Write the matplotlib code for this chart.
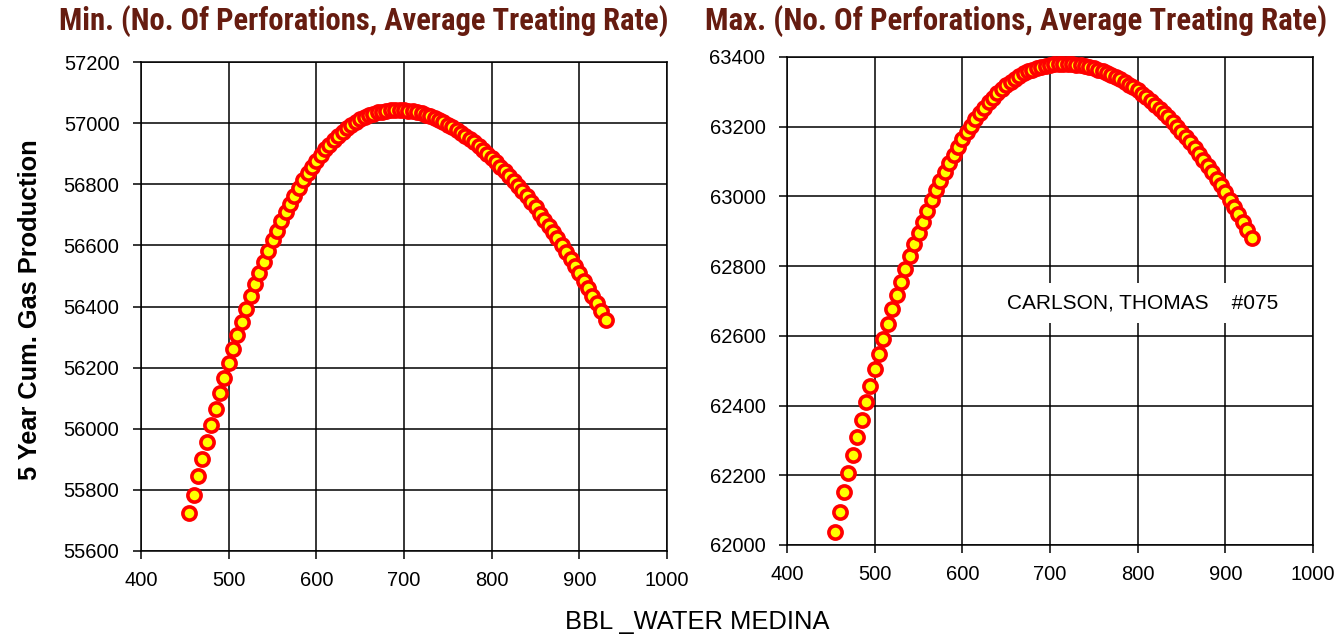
import matplotlib
matplotlib.use("Agg")
import matplotlib.pyplot as plt
from matplotlib import font_manager
from matplotlib.font_manager import FontProperties

# ---- data ----
water_bbl = [455, 460, 465, 470, 475, 480, 485, 490, 495, 500,
             505, 510, 515, 520, 525, 530, 535, 540, 545, 550,
             555, 560, 565, 570, 575, 580, 585, 590, 595, 600,
             605, 610, 615, 620, 625, 630, 635, 640, 645, 650,
             655, 660, 665, 670, 675, 680, 685, 690, 695, 700,
             705, 710, 715, 720, 725, 730, 735, 740, 745, 750,
             755, 760, 765, 770, 775, 780, 785, 790, 795, 800,
             805, 810, 815, 820, 825, 830, 835, 840, 845, 850,
             855, 860, 865, 870, 875, 880, 885, 890, 895, 900,
             905, 910, 915, 920, 925, 930]

gas_min = [55724, 55784, 55844, 55902, 55958, 56012, 56065, 56116, 56167, 56215,
           56261, 56306, 56350, 56392, 56433, 56473, 56511, 56547, 56582, 56616,
           56648, 56679, 56708, 56737, 56763, 56789, 56813, 56836, 56857, 56877,
           56896, 56914, 56930, 56945, 56959, 56972, 56984, 56994, 57004, 57012,
           57019, 57025, 57030, 57035, 57038, 57040, 57042, 57043, 57043, 57042,
           57041, 57039, 57036, 57032, 57027, 57022, 57016, 57010, 57003, 56995,
           56987, 56978, 56969, 56959, 56948, 56937, 56925, 56913, 56900, 56887,
           56873, 56858, 56844, 56828, 56812, 56795, 56778, 56760, 56742, 56724,
           56704, 56684, 56664, 56644, 56623, 56601, 56578, 56556, 56533, 56509,
           56485, 56460, 56435, 56410, 56384, 56357]

gas_max = [62036, 62095, 62151, 62206, 62258, 62310, 62360, 62409, 62457, 62504,
           62549, 62592, 62635, 62676, 62717, 62755, 62792, 62828, 62863, 62896,
           62928, 62959, 62989, 63018, 63045, 63071, 63096, 63120, 63142, 63164,
           63184, 63203, 63221, 63239, 63255, 63270, 63283, 63296, 63308, 63319,
           63329, 63338, 63346, 63353, 63359, 63364, 63369, 63372, 63375, 63377,
           63379, 63380, 63380, 63380, 63379, 63378, 63376, 63374, 63371, 63368,
           63364, 63360, 63355, 63349, 63343, 63336, 63329, 63321, 63313, 63304,
           63295, 63285, 63274, 63263, 63252, 63240, 63227, 63214, 63200, 63185,
           63171, 63155, 63139, 63123, 63105, 63088, 63070, 63051, 63032, 63012,
           62991, 62970, 62949, 62927, 62904, 62881]

x_ticks = [400, 500, 600, 700, 800, 900, 1000]
y_ticks_min = [55600, 55800, 56000, 56200, 56400, 56600, 56800, 57000, 57200]
y_ticks_max = [62000, 62200, 62400, 62600, 62800, 63000, 63200, 63400]

title_min = "Min. (No. Of Perforations, Average Treating Rate)"
title_max = "Max. (No. Of Perforations, Average Treating Rate)"
y_label = "5 Year Cum. Gas Production"
x_label = "BBL _WATER MEDINA"
note = "CARLSON, THOMAS    #075"

# ---- fonts ----
plt.rcParams["font.family"] = ["Liberation Sans", "DejaVu Sans"]


def find_condensed_bold():
    prefs = ["liberation sans narrow", "arial narrow", "roboto condensed",
             "open sans condensed", "noto sans condensed", "dejavu sans condensed",
             "dejavu sans"]
    best = None
    for f in font_manager.fontManager.ttflist:
        name = f.name.lower()
        fname = f.fname.lower()
        narrowish = ("narrow" in name or "condensed" in name or "narrow" in fname
                     or "condensed" in fname)
        if not narrowish:
            continue
        if "italic" in str(f.style).lower() or "oblique" in str(f.style).lower():
            continue
        if "italic" in fname or "oblique" in fname:
            continue
        w = f.weight if isinstance(f.weight, int) else (700 if "bold" in str(f.weight).lower() else 400)
        rank = len(prefs)
        for i, p in enumerate(prefs):
            if p in name or p.replace(" ", "") in fname.replace("-", "").replace("_", ""):
                rank = i
                break
        score = rank * 1000 + abs(w - 700)
        if "semi" in fname or "extra" in fname:
            score += 100
        if best is None or score < best[0]:
            best = (score, f.fname)
    if best is not None:
        return FontProperties(fname=best[1])
    return FontProperties(family=["Liberation Sans", "DejaVu Sans"], weight="bold")


title_fp = find_condensed_bold()

W, H = 1338, 641
fig = plt.figure(figsize=(W / 100, H / 100), dpi=100)
fig.patch.set_facecolor("white")
renderer = fig.canvas.get_renderer()


def px_axes(l, r, t, b):
    return fig.add_axes([l / W, 1 - b / H, (r - l) / W, (b - t) / H])


def fit_width(txt, target_px, start_size):
    txt.set_fontsize(start_size)
    bb = txt.get_window_extent(renderer=renderer)
    w = bb.width if txt.get_rotation() == 0 else bb.height
    txt.set_fontsize(start_size * target_px / w)


ax1 = px_axes(141, 667, 62, 551)
ax2 = px_axes(787, 1313, 57, 545)

title_color = "#661c10"

for ax, ys, yt in [(ax1, gas_min, y_ticks_min), (ax2, gas_max, y_ticks_max)]:
    ax.plot(water_bbl, ys, linestyle="none", marker="o", markersize=9.5,
            markerfacecolor="#ffff00", markeredgecolor="#ff0000",
            markeredgewidth=2.6, zorder=4, clip_on=False)
    ax.set_xlim(400, 1000)
    ax.set_ylim(yt[0], yt[-1])
    ax.set_xticks(x_ticks)
    ax.set_yticks(yt)
    ax.set_axisbelow(True)
    ax.grid(True, color="black", linewidth=1.1)
    for s in ax.spines.values():
        s.set_color("black")
        s.set_linewidth(1.1)
    ax.tick_params(direction="out", length=5.5, width=1.1, labelsize=14.5,
                   colors="black")
    ax.tick_params(axis="y", pad=10)
    ax.tick_params(axis="x", pad=9)

# titles (figure text, positioned as in the reference)
t1 = fig.text(364 / W, 1 - 21 / H, title_min, ha="center", va="center",
              fontproperties=title_fp, color=title_color)
fit_width(t1, 612, 18)
t2 = fig.text(1016 / W, 1 - 21 / H, title_max, ha="center", va="center",
              fontproperties=title_fp, color=title_color)
fit_width(t2, 624, 18)

ann = ax2.text((1143 - 787) / 526, (545 - 303) / 488, note, transform=ax2.transAxes,
               ha="center", va="center", color="black", zorder=3,
               bbox=dict(facecolor="white", edgecolor="none", pad=5))
fit_width(ann, 270, 13)

yl = fig.text(30 / W, 1 - 310 / H, y_label, rotation=90, ha="center", va="center",
              fontweight="bold", color="black")
fit_width(yl, 340, 16)

xl = fig.text(697 / W, 1 - 622 / H, x_label, ha="center", va="center",
              color="black")
fit_width(xl, 265, 16)

fig.savefig("out.png", dpi=100, facecolor="white")
